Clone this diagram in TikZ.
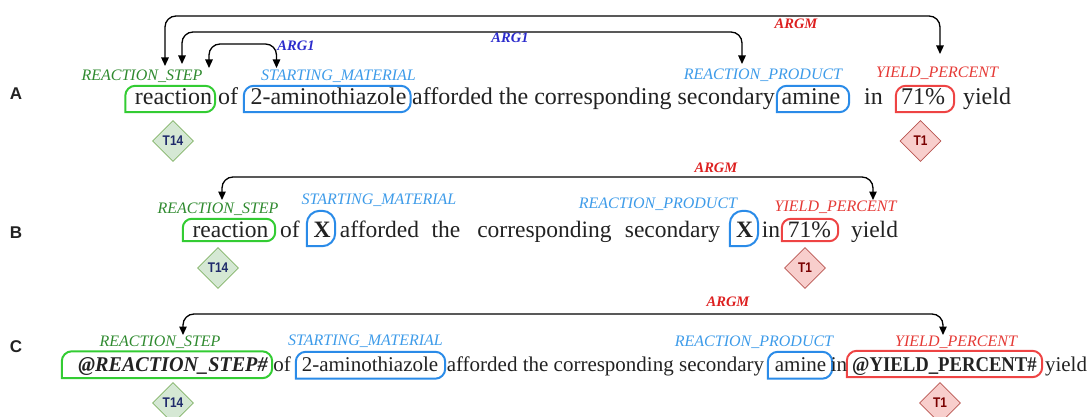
\documentclass[tikz,border=0pt]{standalone}
\usepackage{fontspec}
\setmainfont{Liberation Serif}
\newfontfamily\sansf{Liberation Sans}
\usetikzlibrary{arrows.meta,shapes.geometric,calc}
\definecolor{rsG}{HTML}{2F8A2F}
\definecolor{boxG}{HTML}{33CC33}
\definecolor{smB}{HTML}{3D9BE9}
\definecolor{boxB}{HTML}{2A8BE8}
\definecolor{ypR}{HTML}{E53935}
\definecolor{boxR}{HTML}{EE4444}
\definecolor{argB}{HTML}{2B2BCC}
\definecolor{argR}{HTML}{DD2020}
\definecolor{dgF}{HTML}{D5E8D4}
\definecolor{dgD}{HTML}{82B366}
\definecolor{drF}{HTML}{F8CECC}
\definecolor{drD}{HTML}{B85450}
\definecolor{tNavy}{HTML}{1F2A6B}
\definecolor{tRed}{HTML}{7A0000}
\definecolor{txt}{HTML}{222222}
\tikzset{
  wA/.style={anchor=base, inner sep=0pt, text=txt, font=\fontsize{24}{28}\selectfont},
  wB/.style={anchor=base, inner sep=0pt, text=txt, font=\fontsize{23.5}{28}\selectfont},
  wC/.style={anchor=base, inner sep=0pt, text=txt, font=\fontsize{21}{25}\selectfont},
  lab/.style={inner sep=0pt, font=\fontsize{16}{18}\selectfont\itshape},
  rsl/.style={lab, text=rsG},
  sml/.style={lab, text=smB},
  ypl/.style={lab, text=ypR},
  arglab/.style={inner sep=0pt, font=\fontsize{14.5}{16}\selectfont\bfseries\itshape},
  arcline/.style={draw=black, line width=1.3pt, rounded corners=11pt,
    {Triangle[length=8.5pt,width=7.5pt]}-{Triangle[length=8.5pt,width=7.5pt]}},
  tagline/.style={line width=2pt, line cap=rect},
  dia/.style={diamond, shape aspect=1, minimum width=41pt, minimum height=41pt,
    inner sep=0pt, line width=0.8pt, font=\sansf\bfseries\fontsize{14}{14}\selectfont},
  diag/.style={dia, fill=dgF, draw=dgD, text=tNavy},
  diar/.style={dia, fill=drF, draw=drD, text=tRed},
  rowlab/.style={inner sep=0pt, font=\sansf\bfseries\fontsize{17}{17}\selectfont, text=txt}
}
% name, x1, y1, x2, y2, colour, radius
\newcommand\tagbox[7]{%
  \node[inner sep=0pt, minimum width={#4-#2}, minimum height={#5-#3}] (#1) at ({(#2+#4)/2},{(#3+#5)/2}) {};
  \draw[tagline, draw=#6, rounded corners=#7] (#1.south west) -- (#1.north west) -- (#1.north east) -- (#1.south east) -- (#1.south west);}
\begin{document}
\begin{tikzpicture}[x=1pt,y=-1pt]
\useasboundingbox (0,0) rectangle (1089,417);

% ---------- Row A ----------
\node[rowlab] (LA) at (16,93.5) {A};
\tagbox{bA1}{125.5}{86}{215}{112}{boxG}{10pt}
\tagbox{bA2}{244}{86}{410.5}{112}{boxB}{10pt}
\tagbox{bA3}{777}{86}{849}{112}{boxB}{10pt}
\tagbox{bA4}{896}{86}{954}{112}{boxR}{10pt}
\node[wA] (wA1) at (173.5,105) {reaction};
\node[wA] (wA2) at (228,105) {of};
\node[wA] (wA3) at (328.5,105) {2-aminothiazole};
\node[wA] (wA4) at (593.5,105) {afforded the corresponding secondary};
\node[wA] (wA5) at (811,105) {amine};
\node[wA] (wA6) at (873.5,105) {in};
\node[wA] (wA7) at (923,105) {71\%};
\node[wA] (wA8) at (987,105) {yield};
\node[rsl] (lA1) at (142,76) {REACTION\_STEP};
\node[sml] (lA2) at (338.5,76) {STARTING\_MATERIAL};
\node[sml] (lA3) at (763,75) {REACTION\_PRODUCT};
\node[ypl] (lA4) at (937,73) {YIELD\_PERCENT};
\node[diag] (dA1) at (173,141) {\scalebox{0.85}[1]{T14}};
\node[diar] (dA2) at (920.5,141) {\scalebox{0.85}[1]{T1}};
\coordinate (tA1) at (165,66);
\coordinate (tA2) at (940,54);
\coordinate (hA1) at (0,16);
\coordinate (tA3) at (182,64);
\coordinate (tA4) at (742,64);
\coordinate (hA2) at (0,32);
\coordinate (tA5) at (209,68);
\coordinate (tA6) at (276.5,68);
\coordinate (hA3) at (0,44);
\draw[arcline] (tA1) -- (tA1 |- hA1) -| (tA2);
\draw[arcline] (tA3) -- (tA3 |- hA2) -| (tA4);
\draw[arcline] (tA5) -- (tA5 |- hA3) -| (tA6);
\node[arglab, text=argB] (gA1) at (296,46) {ARG1};
\node[arglab, text=argB] (gA2) at (510,38) {ARG1};
\node[arglab, text=argR] (gA3) at (796,24) {ARGM};

% ---------- Row B ----------
\node[rowlab] (LB) at (16,233) {B};
\tagbox{bB1}{183}{219}{275}{241}{boxG}{9pt}
\tagbox{bB2}{307}{211}{335}{246}{boxB}{13pt}
\tagbox{bB3}{730}{211}{758}{246}{boxB}{13pt}
\tagbox{bB4}{782}{219}{838}{241}{boxR}{9pt}
\node[wB] (wB1) at (230.5,237) {reaction};
\node[wB] (wB2) at (290,237) {of};
\node[wB, font=\fontsize{23.5}{28}\selectfont\bfseries] (wB3) at (322,237) {X};
\node[wB] (wB4) at (379.5,237) {afforded};
\node[wB] (wB5) at (446,237) {the};
\node[wB] (wB6) at (544.5,237) {corresponding};
\node[wB] (wB7) at (672.5,237) {secondary};
\node[wB, font=\fontsize{23.5}{28}\selectfont\bfseries] (wB8) at (744.5,237) {X};
\node[wB] (wB9) at (771,237) {in};
\node[wB] (wB10) at (809.5,237) {71\%};
\node[wB] (wB11) at (874.5,237) {yield};
\node[rsl] (lB1) at (218,209) {REACTION\_STEP};
\node[sml] (lB2) at (379,200) {STARTING\_MATERIAL};
\node[sml] (lB3) at (658,204) {REACTION\_PRODUCT};
\node[ypl] (lB4) at (835.5,207) {YIELD\_PERCENT};
\node[diag] (dB1) at (218,268) {\scalebox{0.85}[1]{T14}};
\node[diar] (dB2) at (805,268) {\scalebox{0.85}[1]{T1}};
\coordinate (tB1) at (222,200);
\coordinate (tB2) at (873,200);
\coordinate (hB1) at (0,177);
\draw[arcline] (tB1) -- (tB1 |- hB1) -| (tB2);
\node[arglab, text=argR] (gB1) at (716,168) {ARGM};

% ---------- Row C ----------
\node[rowlab] (LC) at (16,347) {C};
\tagbox{bC1}{62}{351.5}{272}{378}{boxG}{10pt}
\tagbox{bC2}{296}{352}{445}{378.5}{boxB}{10pt}
\tagbox{bC3}{768}{352}{832}{378.5}{boxB}{10pt}
\tagbox{bC4}{847}{351}{1042}{377}{boxR}{10pt}
\node[wC, font=\fontsize{21}{25}\selectfont\bfseries\itshape] (wC1) at (173,371) {\scalebox{0.96}[1]{@REACTION\_STEP\#}};
\node[wC] (wC2) at (282,371) {of};
\node[wC] (wC3) at (370,371) {2-aminothiazole};
\node[wC] (wC4) at (605.5,371) {afforded the corresponding secondary};
\node[wC] (wC5) at (800.5,371) {amine};
\node[wC] (wC6) at (839,371) {in};
\node[wC, font=\fontsize{21}{25}\selectfont\bfseries] (wC7) at (944.5,371) {\scalebox{0.89}[1]{@YIELD\_PERCENT\#}};
\node[wC] (wC8) at (1066,371) {yield};
\node[rsl] (lC1) at (160,342) {REACTION\_STEP};
\node[sml] (lC2) at (365.5,341) {STARTING\_MATERIAL};
\node[sml] (lC3) at (754,342) {REACTION\_PRODUCT};
\node[ypl] (lC4) at (956,342) {YIELD\_PERCENT};
\node[diag] (dC1) at (173,403) {\scalebox{0.85}[1]{T14}};
\node[diar] (dC2) at (940,403) {\scalebox{0.85}[1]{T1}};
\coordinate (tC1) at (183,335);
\coordinate (tC2) at (943,335);
\coordinate (hC1) at (0,314);
\draw[arcline] (tC1) -- (tC1 |- hC1) -| (tC2);
\node[arglab, text=argR] (gC1) at (728,302) {ARGM};
\end{tikzpicture}
\end{document}
